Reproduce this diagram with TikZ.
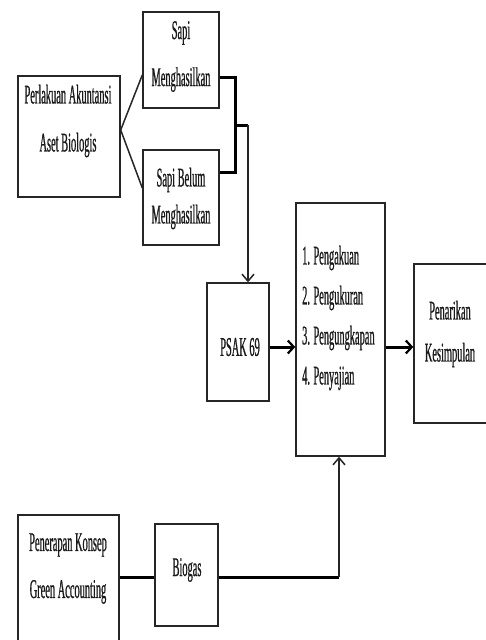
\documentclass[tikz,border=0pt]{standalone}
\usepackage{fontspec}
\setmainfont[FakeStretch=0.385,FakeBold=0.6]{Liberation Serif}
\usetikzlibrary{arrows.meta}
\begin{document}
\begin{tikzpicture}[x=1pt,y=-1pt,
  box/.style={draw=black!85,line width=1.4pt,minimum width=#1,inner sep=0pt},
  txt/.style={align=center,inner sep=0pt,text=black!90,font=\fontsize{27}{#1}\selectfont},
  txt/.default=40pt,
  thin/.style={line width=1.5pt,black!85},
  thick/.style={line width=3pt,black},
  tip/.style={-{Straight Barb[length=7pt,width=12pt,line width=1.5pt]}},
  tipb/.style={-{Straight Barb[length=6pt,width=13pt,line width=2.2pt]}}
]
\useasboundingbox (0,0) rectangle (485,640);
\fill[white] (0,0) rectangle (485,640);

% boxes
\node[box=102pt,minimum height=121pt] (perl) at (69,136.5) {};
\node[box=76pt,minimum height=96pt] (sapiM) at (181,60) {};
\node[box=76pt,minimum height=95pt] (sapiB) at (181,197.5) {};
\node[box=62pt,minimum height=118pt] (psak) at (238,342) {};
\node[box=89pt,minimum height=253pt] (big) at (340.5,329.5) {};
\node[box=75pt,minimum height=159pt] (pen) at (451.5,343.5) {};
\node[box=101pt,minimum height=132pt] (green) at (68.5,581) {};
\node[box=63pt,minimum height=102pt] (bio) at (186.5,575) {};

% texts
\node[txt=48pt] (perlT) at (68,121) {Perlakuan Akuntansi\\Aset Biologis};
\node[txt=47pt] (sapiMT) at (181,56.5) {Sapi\\Menghasilkan};
\node[txt=37pt] (sapiBT) at (181,198.5) {Sapi Belum\\Menghasilkan};
\node[txt] (psakT) at (240,347) {PSAK 69};
\node[txt=40pt,align=left,anchor=west] (bigT) at (302,318) {1. Pengakuan\\2. Pengukuran\\3. Pengungkapan\\4. Penyajian};
\node[txt=42pt] (penT) at (450,334) {Penarikan\\Kesimpulan};
\node[txt=47pt] (greenT) at (68,568.5) {Penerapan Konsep\\Green Accounting};
\node[txt] (bioT) at (187,570) {Biogas};

% connector points
\coordinate (pj) at (perl.east |- 0,130);
\coordinate (sMw) at (sapiM.west |- 0,75);
\coordinate (sBw) at (sapiB.west |- 0,188);
\coordinate (sMe) at (sapiM.east |- 0,77);
\coordinate (sBe) at (sapiB.east |- 0,172);
\coordinate (br1) at (235,77);
\coordinate (br2) at (235,172);
\coordinate (brm) at (235,125);
\coordinate (dn) at (248,125);
\coordinate (cor) at (339,577);

\draw[thin] (pj) -- (sMw);
\draw[thin] (pj) -- (sBw);
\draw[thick] (sMe) -- (br1) -- (br2) -- (sBe);
\draw[thick] (brm) -- (dn);
\draw[thin,tip] (dn) -- (dn |- psak.north);
\draw[thick,tipb] (psak.east |- 0,347) -- (big.west |- 0,347);
\draw[thick,tipb] (big.east |- 0,347) -- (pen.west |- 0,347);
\draw[thick] (green.east |- 0,577) -- (bio.west |- 0,577);
\draw[thick] (bio.east |- 0,577) -- (cor);
\draw[thin,tip] (cor) -- (cor |- big.south);
\end{tikzpicture}
\end{document}
